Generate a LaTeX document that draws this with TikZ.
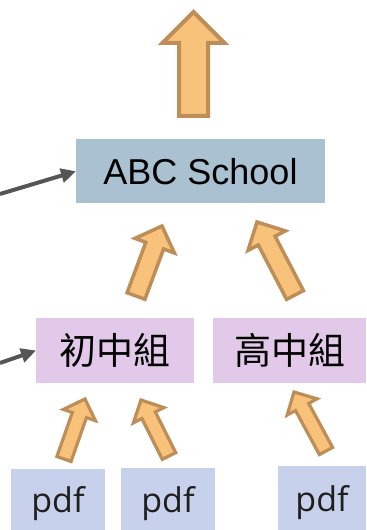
\documentclass[tikz,border=0pt]{standalone}
\usepackage{fontspec}
\usetikzlibrary{calc,arrows.meta}
\newfontfamily\arialf{Liberation Sans}
\newfontfamily\cjkf{Noto Sans CJK TC}
\newfontfamily\pdff{Open Sans}
\definecolor{abcfill}{HTML}{A9C1D1}
\definecolor{grpfill}{HTML}{E2C9E9}
\definecolor{pdffill}{HTML}{C8D1EC}
\definecolor{arrfill}{HTML}{F9C27A}
\definecolor{arredge}{HTML}{BD8E57}
\definecolor{grayarr}{HTML}{555555}
% tail, tip, shaft half width, head half width, head length, line width
\newcommand\myblockarrow[6]{%
  \coordinate (ba-h) at ($(#2)!#5!(#1)$);
  \filldraw[fill=arrfill,draw=arredge,line width=#6,line join=miter]
    ($(#1)!#3!90:(#2)$) -- ($(ba-h)!#3!90:(#2)$) -- ($(ba-h)!#4!90:(#2)$) -- (#2)
    -- ($(ba-h)!#4!-90:(#2)$) -- ($(ba-h)!#3!-90:(#2)$) -- ($(#1)!#3!-90:(#2)$) -- cycle;
}
\begin{document}
\begin{tikzpicture}[x=1bp,y=-1bp,
  box/.style={draw=none,inner sep=0pt,outer sep=0pt,text=black},
  abcbox/.style={box,fill=abcfill,minimum width=249bp,minimum height=64bp,
    font=\arialf\fontsize{36bp}{40bp}\selectfont},
  grpbox/.style={box,fill=grpfill,minimum width=#1,minimum height=65bp,
    font=\cjkf\fontsize{37bp}{40bp}\selectfont},
  pdfbox/.style={box,fill=pdffill,minimum width=#1,text height=26bp,text depth=0bp,
    font=\pdff\fontsize{34bp}{38bp}\selectfont,text=black!88},
  grayline/.style={draw=grayarr,line width=4bp,-{Triangle[length=15bp,width=14bp]}}
]
\useasboundingbox (0,0) rectangle (366,530);

\node[abcbox] (abc) at (200.5,171.25) {ABC School};
\node[grpbox=158bp] (jr) at (115,350.5) {初中組};
\node[grpbox=153bp] (sr) at (289.5,350.5) {高中組};
\node[pdfbox=94bp,minimum height=61bp] (p1) at (58,499.5) {pdf};
\node[pdfbox=94bp,minimum height=62bp] (p2) at (168,499) {pdf};
\node[pdfbox=88bp,minimum height=64bp] (p3) at (322,498) {pdf};

% gray connectors from the left
\coordinate (g1) at (0,194);
\coordinate (g2) at (0,363);
\draw[grayline] (g1) -- (abc.west);
\draw[grayline] (g2) -- (jr.west);

% block arrows
\coordinate (t0) at (193.5,116); \coordinate (h0) at (193.5,12);
\myblockarrow{t0}{h0}{14.5bp}{31bp}{31bp}{4bp}
\coordinate (t1) at (136,296); \coordinate (h1) at (162,226);
\myblockarrow{t1}{h1}{9.5bp}{21bp}{21bp}{3.5bp}
\coordinate (t2) at (295,295); \coordinate (h2) at (257,222);
\myblockarrow{t2}{h2}{9.5bp}{21bp}{21bp}{3.5bp}
\coordinate (t3) at (64,459); \coordinate (h3) at (85,399);
\myblockarrow{t3}{h3}{7.5bp}{17bp}{17bp}{3.2bp}
\coordinate (t4) at (169,456); \coordinate (h4) at (141,400);
\myblockarrow{t4}{h4}{7.5bp}{17bp}{17bp}{3.2bp}
\coordinate (t5) at (326,451); \coordinate (h5) at (294,392);
\myblockarrow{t5}{h5}{7.5bp}{17bp}{17bp}{3.2bp}
\end{tikzpicture}
\end{document}
